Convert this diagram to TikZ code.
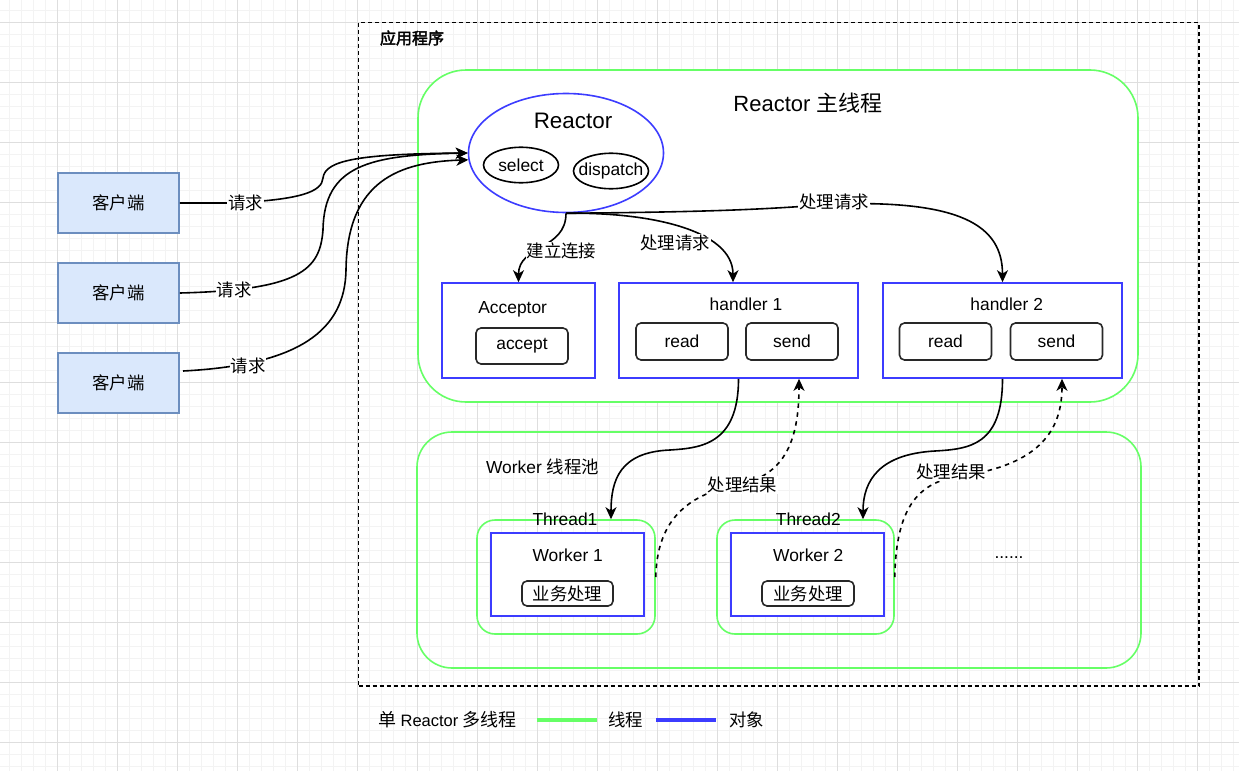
\documentclass[tikz,border=0pt]{standalone}
\usepackage{fontspec}
\setmainfont{Liberation Sans}
\newfontfamily\cjk[AutoFakeBold=2.5]{Noto Sans CJK SC}
\newcommand\zh[1]{{\cjk #1}}
\usetikzlibrary{arrows.meta,shapes.geometric}
\definecolor{gridmin}{RGB}{243,243,243}
\definecolor{gridmaj}{RGB}{222,222,222}
\definecolor{thgreen}{RGB}{102,255,102}
\definecolor{objblue}{RGB}{60,60,255}
\definecolor{clfill}{RGB}{218,232,252}
\definecolor{cldraw}{RGB}{108,142,191}
\definecolor{darkbox}{RGB}{40,40,40}
\tikzset{
  basefont/.style={font=\fontsize{17.4}{20}\selectfont},
  client/.style={draw=cldraw, fill=clfill, line width=1.6pt, minimum width=121pt, minimum height=60pt, inner sep=0pt},
  thread/.style={draw=thgreen, line width=1.6pt, inner sep=0pt},
  obj/.style={draw=objblue, fill=white, line width=1.6pt, inner sep=0pt},
  opbox/.style={draw=darkbox, fill=white, line width=1.6pt, rounded corners=5pt, inner sep=0pt},
  plain/.style={inner sep=0pt},
  lbl/.style={fill=white, inner sep=1pt},
  conn/.style={line width=1.6pt, -{Stealth[length=12pt,width=11pt,inset=3.5pt]}},
  dconn/.style={conn, dash pattern=on 4.5pt off 4.5pt},
}
\begin{document}
\begin{tikzpicture}[x=1pt,y=-1pt, every node/.style={basefont}]
\useasboundingbox (0,0) rectangle (1239,771);
% background grid
\fill[white] (0,0) rectangle (1239,771);
\foreach \x in {9.3,21.3,...,1239} \draw[gridmin, line width=1pt] (\x,0) -- (\x,771);
\foreach \y in {10.3,22.3,...,771} \draw[gridmin, line width=1pt] (0,\y) -- (1239,\y);
\foreach \x in {-2.7,57.3,...,1239} \draw[gridmaj, line width=1pt] (\x,0) -- (\x,771);
\foreach \y in {22.3,82.3,...,771} \draw[gridmaj, line width=1pt] (0,\y) -- (1239,\y);

% application frame
\node[draw=black, line width=1.8pt, dash pattern=on 4pt off 3pt, minimum width=840.5pt, minimum height=663.5pt, plain] (app) at (778.75,354.25) {};
\node[font=\fontsize{16}{18}\selectfont\bfseries] (applbl) at (412,38) {\zh{应用程序}};

% clients
\node[client] (c1) at (118.5,203) {\zh{客户端}};
\node[client] (c2) at (118.5,293) {\zh{客户端}};
\node[client] (c3) at (118.5,383) {\zh{客户端}};

% Reactor main thread
\node[thread, fill=white, rounded corners=48pt, minimum width=720pt, minimum height=332pt] (mainth) at (778,236) {};
\node[font=\fontsize{22}{26}\selectfont] (title) at (808,103) {Reactor \zh{主线程}};

\node[obj, ellipse, minimum width=195pt, minimum height=119pt] (reactor) at (566,153) {};
\node[font=\fontsize{22.4}{26}\selectfont] (reactortxt) at (573,121) {Reactor};
\node[draw=black, line width=1.6pt, ellipse, minimum width=75pt, minimum height=35.5pt, plain] (select) at (521,165) {};
\node (selecttxt) at (521,165) {select};
\node[draw=black, line width=1.6pt, ellipse, minimum width=75pt, minimum height=35.5pt, plain] (dispatch) at (611,171) {};
\node (dispatchtxt) at (611,171) {dispatch};

\node[obj, minimum width=153pt, minimum height=95pt] (acceptor) at (518.5,330.5) {};
\node (acceptortxt) at (512.7,309) {Acceptor};
\node[opbox, minimum width=92pt, minimum height=36pt] (accept) at (522,346) {accept};

\node[obj, minimum width=239pt, minimum height=95pt] (handler1) at (738.5,330.5) {};
\node (h1txt) at (746,304) {handler 1};
\node[opbox, minimum width=92pt, minimum height=37pt] (read1) at (682,341.5) {read};
\node[opbox, minimum width=92pt, minimum height=37pt] (send1) at (792,341.5) {send};

\node[obj, minimum width=239pt, minimum height=95pt] (handler2) at (1002.5,330.5) {};
\node (h2txt) at (1006.7,304) {handler 2};
\node[opbox, minimum width=92pt, minimum height=37pt] (read2) at (945.5,341.5) {read};
\node[opbox, minimum width=92pt, minimum height=37pt] (send2) at (1056.5,341.5) {send};

% Worker pool
\node[thread, rounded corners=35pt, minimum width=724pt, minimum height=236pt] (pool) at (779,550) {};
\node (pooltxt) at (542.5,467) {Worker \zh{线程池}};

\node[thread, rounded corners=18pt, minimum width=178pt, minimum height=114pt] (t1) at (566,577) {};
\node (t1txt) at (565,519) {Thread1};
\node[obj, minimum width=153pt, minimum height=83pt] (w1) at (567.5,574.5) {};
\node (w1txt) at (567.7,555.7) {Worker 1};
\node[opbox, minimum width=91pt, minimum height=25pt] (biz1) at (567.5,593.5) {\zh{业务处理}};

\node[thread, rounded corners=18pt, minimum width=177pt, minimum height=114pt] (t2) at (805.5,577) {};
\node (t2txt) at (808.3,519) {Thread2};
\node[obj, minimum width=153pt, minimum height=83pt] (w2) at (807.5,574.5) {};
\node (w2txt) at (808.3,555.7) {Worker 2};
\node[opbox, minimum width=92pt, minimum height=25pt] (biz2) at (808,593.5) {\zh{业务处理}};

\node (dots) at (1009,558) {......};

% connectors: clients -> reactor
\coordinate (c3s) at (183,371);
\draw[conn] (c1.east) -- (230,203) .. controls (300,200) and (322,192) .. (323,178) .. controls (325,160) and (360,154) .. (reactor.west);
\draw[conn] (c2.east) .. controls (300,290) and (320,270) .. (323,230) .. controls (324,165) and (370,155) .. (reactor.west);
\draw[conn] (c3s) .. controls (300,365) and (345,330) .. (346,270) .. controls (347,180) and (400,162) .. (reactor.184);

% reactor -> acceptor / handlers
\draw[conn] (reactor.south) .. controls (566,250) and (518.5,245) .. (acceptor.north);
\draw[conn] (reactor.south) .. controls (650,212) and (733,230) .. ([xshift=-5.5pt]handler1.north);
\draw[conn] (reactor.south) .. controls (700,212) and (760,210) .. (834,204) .. controls (960,200) and (1002.5,225) .. (handler2.north);

% handlers -> threads
\draw[conn] (handler1.south) .. controls (738.5,445) and (700,448) .. (670,450) .. controls (620,452) and (611,480) .. ([xshift=45pt]t1.north);
\draw[conn] (handler2.south) .. controls (1002.5,445) and (970,449) .. (935,451) .. controls (880,454) and (863,480) .. ([xshift=57.5pt]t2.north);

% results back
\draw[dconn] (t1.east) .. controls (657,510) and (700,492) .. (740,484) .. controls (785,475) and (799,440) .. ([xshift=60.5pt]handler1.south);
\draw[dconn] (t2.east) .. controls (896,505) and (920,482) .. (960,476) .. controls (1040,465) and (1062,430) .. ([xshift=59.5pt]handler2.south);

% edge labels
\node[lbl] (l1) at (245.5,203) {\zh{请求}};
\node[lbl] (l2) at (234,290) {\zh{请求}};
\node[lbl] (l3) at (248,366) {\zh{请求}};
\node[lbl] (l4) at (561.5,251) {\zh{建立连接}};
\node[lbl] (l5) at (675,243) {\zh{处理请求}};
\node[lbl] (l6) at (834,202) {\zh{处理请求}};
\node[lbl] (l7) at (742.5,485) {\zh{处理结果}};
\node[lbl] (l8) at (951,472) {\zh{处理结果}};

% legend
\node[font=\fontsize{16.5}{19}\selectfont] (leg) at (447.5,720) {{\fontsize{18}{20}\cjk 单} Reactor {\fontsize{18}{20}\cjk 多线程}};
\coordinate (lg1) at (537,720);
\coordinate (lg2) at (597,720);
\draw[thgreen, line width=4pt] (lg1) -- (lg2);
\node (legth) at (625.5,720) {\zh{线程}};
\coordinate (lb1) at (656,720);
\coordinate (lb2) at (716,720);
\draw[objblue, line width=4pt] (lb1) -- (lb2);
\node (legobj) at (746.7,720) {\zh{对象}};
\end{tikzpicture}
\end{document}
